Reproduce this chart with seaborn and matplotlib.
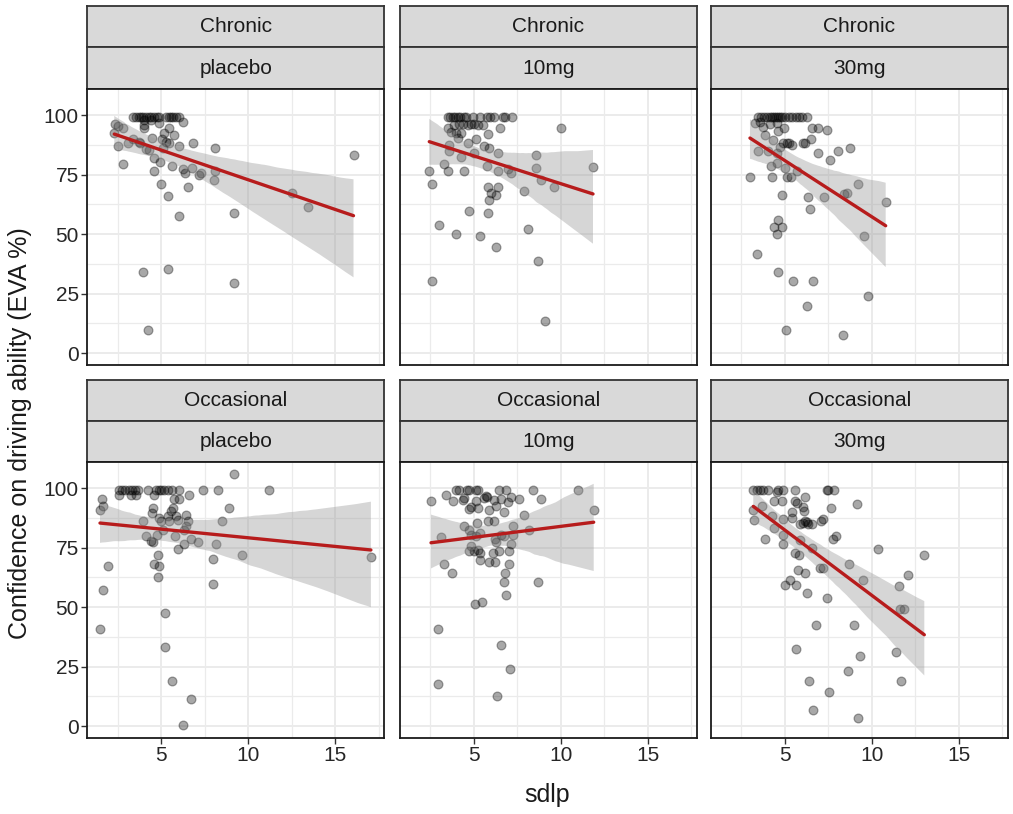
import numpy as np
import pandas as pd
import matplotlib
matplotlib.use("Agg")
import matplotlib.pyplot as plt
import seaborn as sns
from matplotlib.ticker import MultipleLocator

sns.set_theme(style="white")
plt.rcParams["font.family"] = ["Liberation Sans", "DejaVu Sans"]

# ---------------- data ----------------
users = ["Chronic", "Occasional"]
doses = ["placebo", "10mg", "30mg"]

chronic_placebo_sdlp = [2.36, 2.49, 2.30, 2.82, 2.49, 3.07, 2.78, 3.35, 3.74, 3.77, 4.02, 4.12, 4.31, 4.46,
                        4.60, 4.56, 4.92, 5.00, 5.11, 5.04, 5.17, 5.27, 5.42, 5.42, 5.61, 5.71, 5.40, 6.03,
                        6.00, 6.23, 6.36, 6.55, 6.76, 6.80, 7.15, 7.28, 8.10, 8.10, 8.05, 9.20, 9.16, 3.93,
                        5.40, 4.25, 12.51, 13.45, 16.05, 6.23, 4.89, 4.02,
                        3.39, 3.54, 3.70, 3.83, 3.97, 4.12, 4.27, 4.41, 4.60, 4.73, 4.89, 5.27, 5.42, 5.56,
                        5.69, 5.84, 6.00, 4.02, 4.41]
chronic_placebo_eva = [96.5, 95.5, 92.7, 94.8, 87.1, 88.1, 79.6, 89.8, 88.8, 88.5, 94.7, 85.7, 85.3, 90.2,
                       82.2, 76.6, 80.4, 70.9, 86.3, 89.9, 92.7, 88.8, 94.7, 88.1, 78.7, 91.6, 66.2, 87.1,
                       57.7, 77.3, 75.5, 69.9, 77.6, 88.1, 74.8, 75.5, 86.3, 76.5, 72.7, 58.7, 29.6, 34.0,
                       35.2, 9.7, 67.4, 61.2, 83.2, 97.2, 96.9, 95.8,
                       99.3, 99.3, 99.3, 99.3, 99.3, 99.3, 99.3, 99.3, 99.3, 99.3, 99.3, 99.3, 99.3, 99.3,
                       99.3, 99.3, 99.3, 97.9, 97.9]

chronic_10mg_sdlp = [3.51, 3.66, 3.79, 3.93, 4.08, 4.23, 4.43, 4.56, 4.94, 5.38, 5.77, 5.96, 6.15, 6.67,
                     6.80, 7.18,
                     3.51, 3.89, 4.18, 4.37, 4.66, 4.85, 5.04, 5.27, 5.52, 6.53, 10.02, 3.70, 3.98, 4.27,
                     5.84, 5.13, 4.66, 4.12, 3.60, 3.60, 4.27, 5.04, 5.61, 5.90, 6.38, 3.31, 3.51, 2.45,
                     2.61, 4.46, 5.77, 6.38, 6.95, 7.15, 8.58, 8.58, 8.87, 9.60, 7.87, 11.86, 5.80, 6.38,
                     6.28, 6.00, 5.90, 4.75, 5.84, 3.03, 3.98, 5.38, 8.10, 6.28, 8.72, 2.59, 9.10]
chronic_10mg_eva = [99.3, 99.3, 99.3, 99.3, 99.3, 99.3, 99.3, 99.3, 99.3, 99.3, 99.3, 99.3, 99.3, 99.3,
                    99.3, 99.3,
                    94.7, 95.8, 96.5, 96.1, 95.8, 96.5, 96.1, 95.8, 95.8, 94.7, 94.7, 93.0, 92.3, 92.7,
                    91.9, 89.8, 88.1, 90.2, 87.4, 84.9, 82.5, 83.9, 87.1, 86.0, 84.2, 79.6, 76.6, 76.6,
                    71.0, 76.6, 78.7, 76.6, 77.3, 75.5, 83.2, 77.6, 72.7, 69.9, 68.1, 78.4, 69.9, 69.9,
                    66.4, 67.1, 64.3, 59.8, 58.7, 53.8, 50.1, 49.2, 52.1, 44.7, 38.9, 30.4, 13.3]

chronic_30mg_sdlp = [3.43, 3.62, 3.81, 3.95, 4.14, 4.27, 4.39, 4.48, 4.58, 4.71, 4.85, 5.00, 5.23, 5.42,
                     5.61, 5.80, 6.00, 6.25,
                     3.28, 3.56, 3.75, 4.14, 4.52, 4.96, 4.62, 3.85, 4.33, 4.90, 5.10, 5.23, 5.38, 6.05,
                     6.15, 6.53, 6.92, 7.39, 6.49, 3.47, 4.04, 4.52, 4.71, 6.88, 7.59, 8.07, 8.74, 4.20,
                     4.52, 5.00, 5.67, 2.99, 4.27, 5.10, 5.34, 4.81, 6.34, 6.44, 7.26, 8.41, 8.54, 9.18,
                     10.79, 4.62, 4.39, 4.81, 4.52, 9.56, 3.37, 4.62, 5.48, 6.59, 6.25, 9.79, 5.06, 8.35]
chronic_30mg_eva = [99.3, 99.3, 99.3, 99.3, 99.3, 99.3, 99.3, 99.3, 99.3, 99.3, 99.3, 99.3, 99.3, 99.3,
                    99.3, 99.3, 99.3, 99.3,
                    96.9, 97.2, 95.1, 96.5, 96.9, 94.7, 93.3, 91.6, 89.5, 88.1, 88.5, 88.1, 87.4, 88.1,
                    88.4, 94.7, 94.7, 93.7, 89.9, 84.9, 84.9, 83.9, 86.7, 84.2, 81.1, 84.9, 86.3, 78.6,
                    79.7, 77.6, 76.6, 74.0, 74.0, 74.0, 74.0, 66.4, 65.4, 60.5, 65.4, 66.7, 67.4, 70.9,
                    63.3, 55.9, 53.1, 53.1, 50.0, 49.3, 41.6, 34.0, 30.4, 30.4, 20.0, 23.8, 9.7, 7.6]

occasional_placebo_sdlp = [2.59, 2.74, 2.93, 3.12, 3.31, 3.51, 3.64, 4.21, 4.69, 4.85, 4.98, 5.17, 5.36,
                           5.61, 6.03, 7.38, 8.24, 11.17,
                           2.59, 3.26, 3.54, 4.60, 1.59, 1.67, 1.48, 1.92, 1.67, 1.48, 5.75, 6.03, 6.61,
                           4.50, 4.46, 5.65, 5.56, 8.91, 3.93, 4.89, 4.98, 5.36, 5.46, 5.84, 5.94, 6.42,
                           6.51, 8.49, 4.12, 4.41, 4.50, 4.73, 5.08, 5.80, 6.32, 6.42, 5.94, 6.32, 6.70,
                           7.09, 8.14, 4.79, 4.56, 4.85, 4.83, 7.95, 9.64, 7.95, 17.05, 5.23, 5.23, 5.61,
                           6.72, 6.23, 9.20]
occasional_placebo_eva = [99.3, 99.3, 99.3, 99.3, 99.3, 99.3, 99.3, 99.3, 99.3, 99.3, 99.3, 99.3, 99.3,
                          99.3, 99.3, 99.3, 99.3, 99.3,
                          97.2, 97.2, 97.2, 97.2, 95.5, 92.7, 90.8, 67.2, 57.0, 40.9, 95.5, 95.5, 97.2,
                          91.6, 89.5, 91.6, 90.2, 91.6, 86.3, 87.4, 86.3, 88.1, 86.3, 88.1, 86.7, 88.8,
                          86.3, 86.3, 79.7, 77.9, 77.4, 80.2, 82.5, 79.7, 82.5, 83.9, 74.6, 76.5, 78.8,
                          77.4, 76.5, 72.1, 68.2, 67.2, 62.6, 70.1, 72.1, 59.6, 71.0, 47.5, 33.2, 19.1,
                          11.6, 0.6, 105.9]

occasional_10mg_sdlp = [3.98, 4.18, 4.62, 4.75, 5.13, 5.27, 6.48, 6.86, 8.39, 11.02,
                        3.41, 5.71, 5.77, 2.55, 3.79, 4.37, 4.46, 5.13, 5.61, 6.19, 6.57, 6.28, 6.95,
                        7.15, 7.62, 8.87, 6.76, 5.90, 5.23, 4.75, 4.85, 11.90, 7.87, 5.19, 4.43, 4.75,
                        5.80, 6.15, 7.24, 5.38, 4.85, 5.13, 3.12, 6.25, 6.57, 6.76, 7.24, 8.20, 6.28,
                        7.15, 4.85, 4.75, 5.00, 5.27, 5.38, 6.09, 6.48, 7.05, 5.36, 5.90, 6.25, 7.05,
                        3.31, 3.74, 6.80, 6.76, 8.68, 6.88, 5.08, 5.46, 2.97, 6.57, 7.07, 2.97, 6.32]
occasional_10mg_eva = [99.3, 99.3, 99.3, 99.3, 99.3, 99.3, 99.3, 99.3, 99.3, 99.3,
                       97.2, 96.9, 96.1, 94.4, 94.7, 95.1, 95.8, 94.4, 95.8, 95.1, 95.5, 92.7, 94.1,
                       96.5, 95.5, 95.5, 89.9, 90.9, 91.6, 91.3, 91.9, 90.8, 88.8, 85.3, 83.9, 82.5,
                       86.0, 86.3, 83.9, 81.1, 80.4, 79.7, 79.3, 78.8, 80.4, 79.7, 80.2, 82.5, 77.4,
                       76.5, 75.6, 73.7, 73.5, 74.2, 72.8, 72.8, 73.7, 73.7, 70.0, 69.0, 69.0, 68.2,
                       68.2, 64.4, 64.4, 60.6, 60.6, 55.0, 51.4, 52.2, 40.9, 34.2, 24.2, 17.6, 12.7]

occasional_30mg_sdlp = [3.18, 3.37, 3.56, 3.75, 4.04, 4.62, 4.90, 5.57, 7.39, 7.49, 7.84,
                        4.52, 4.39, 4.85, 5.57, 5.67, 6.15, 6.05, 6.11, 7.64, 9.16, 3.18, 3.66, 3.24,
                        4.23, 4.90, 5.42, 5.38, 5.86, 6.05, 6.15, 6.25, 6.34, 6.53, 7.07, 7.20, 7.91,
                        7.78, 4.39, 3.85, 4.90, 4.87, 5.86, 6.53, 10.33, 13.01, 5.57, 5.80, 7.01, 7.20,
                        8.70, 5.77, 6.15, 9.50, 12.09, 11.55, 5.29, 5.00, 5.61, 6.25, 7.41, 11.61, 11.86,
                        6.78, 8.98, 5.63, 9.31, 11.36, 8.60, 6.38, 11.67, 7.55, 6.61, 9.18]
occasional_30mg_eva = [99.3, 99.3, 99.3, 99.3, 99.3, 99.3, 99.3, 99.3, 99.3, 99.3, 99.3,
                       98.3, 94.4, 94.4, 94.4, 93.7, 96.2, 91.9, 90.2, 91.6, 93.4, 90.9, 92.7, 86.7,
                       88.1, 87.2, 89.9, 87.4, 84.9, 85.3, 86.3, 85.8, 84.9, 84.9, 86.3, 87.2, 79.7,
                       78.8, 83.2, 78.8, 76.5, 80.4, 78.4, 74.9, 74.6, 72.1, 72.8, 72.1, 66.5, 66.5,
                       68.2, 65.4, 64.4, 61.6, 63.4, 58.8, 61.6, 59.5, 59.5, 56.0, 53.9, 49.4, 49.4,
                       42.7, 42.7, 32.3, 29.5, 31.3, 23.0, 19.1, 19.1, 14.5, 6.8, 3.2]

x_ticks = [5, 10, 15]
y_ticks = [0, 25, 50, 75, 100]

series = {
    ("Chronic", "placebo"): (chronic_placebo_sdlp, chronic_placebo_eva),
    ("Chronic", "10mg"): (chronic_10mg_sdlp, chronic_10mg_eva),
    ("Chronic", "30mg"): (chronic_30mg_sdlp, chronic_30mg_eva),
    ("Occasional", "placebo"): (occasional_placebo_sdlp, occasional_placebo_eva),
    ("Occasional", "10mg"): (occasional_10mg_sdlp, occasional_10mg_eva),
    ("Occasional", "30mg"): (occasional_30mg_sdlp, occasional_30mg_eva),
}
frames = []
for (u, d), (xs, ys) in series.items():
    frames.append(pd.DataFrame({"user": u, "dose": d, "sdlp": xs, "eva": ys}))
df = pd.concat(frames, ignore_index=True)

# ---------------- layout ----------------
W, H = 1013, 814
fig = plt.figure(figsize=(W / 100, H / 100), dpi=100)


def rect(x0, x1, y0, y1):
    return [x0 / W, 1 - y1 / H, (x1 - x0) / W, (y1 - y0) / H]


col_edges = [(87.3, 384.3), (399.7, 696.7), (711.0, 1008.0)]
row_edges = [((6, 47.3), (47.3, 89), (89, 365)),
             ((380, 421), (421, 462), (462, 738))]

TXT = "#1a1a1a"
BORDER = "#1a1a1a"
LINE_RED = "#B71C1C"

for r, user in enumerate(users):
    (s1, s2, pan) = row_edges[r]
    for c, dose in enumerate(doses):
        x0, x1 = col_edges[c]
        # strips
        for (sy0, sy1), label in ((s1, user), (s2, dose)):
            sax = fig.add_axes(rect(x0, x1, sy0, sy1))
            sax.set_facecolor("#d9d9d9")
            sax.set_xticks([])
            sax.set_yticks([])
            for sp in sax.spines.values():
                sp.set_color("#333333")
                sp.set_linewidth(1.3)
            sax.text(0.5, 0.5, label, ha="center", va="center", fontsize=15,
                     color=TXT, transform=sax.transAxes)

        ax = fig.add_axes(rect(x0, x1, pan[0], pan[1]))
        ax.set_facecolor("white")
        sub = df[(df["user"] == user) & (df["dose"] == dose)]
        sns.scatterplot(data=sub, x="sdlp", y="eva", ax=ax, color="black", alpha=0.34,
                        s=40, edgecolor="black", linewidth=0.9, legend=False, zorder=2)
        n0 = len(ax.collections)
        sns.regplot(data=sub, x="sdlp", y="eva", ax=ax, scatter=False, color=LINE_RED,
                    ci=95, n_boot=1000, seed=3, truncate=True,
                    line_kws={"linewidth": 2.4, "zorder": 4})
        for coll in ax.collections[n0:]:
            coll.set_facecolor("#999999")
            coll.set_alpha(0.4)
            coll.set_edgecolor("none")
            coll.set_zorder(3)

        ax.set_xlim(0.75, 17.82)
        ax.set_ylim(-5.0, 111.0)
        ax.set_xticks(x_ticks)
        ax.set_yticks(y_ticks)
        ax.xaxis.set_minor_locator(MultipleLocator(2.5))
        ax.yaxis.set_minor_locator(MultipleLocator(12.5))
        ax.grid(which="major", color="#ebebeb", linewidth=1.4)
        ax.grid(which="minor", color="#ebebeb", linewidth=0.9)
        ax.set_axisbelow(True)
        ax.set_xlabel("")
        ax.set_ylabel("")
        for sp in ax.spines.values():
            sp.set_color(BORDER)
            sp.set_linewidth(1.3)
        ax.tick_params(which="minor", length=0)
        ax.tick_params(which="major", length=4, width=1.0, color="#333333",
                       labelsize=15, labelcolor="#262626", pad=2,
                       left=(c == 0), labelleft=(c == 0),
                       bottom=(r == 1), labelbottom=(r == 1))

fig.text(20 / W, 1 - 433 / H, "Confidence on driving ability (EVA %)", rotation=90,
         ha="center", va="center", fontsize=18, color=TXT)
fig.text(547.5 / W, 1 - 795 / H, "sdlp", ha="center", va="center", fontsize=18, color=TXT)

fig.savefig("out.png", dpi=100)
